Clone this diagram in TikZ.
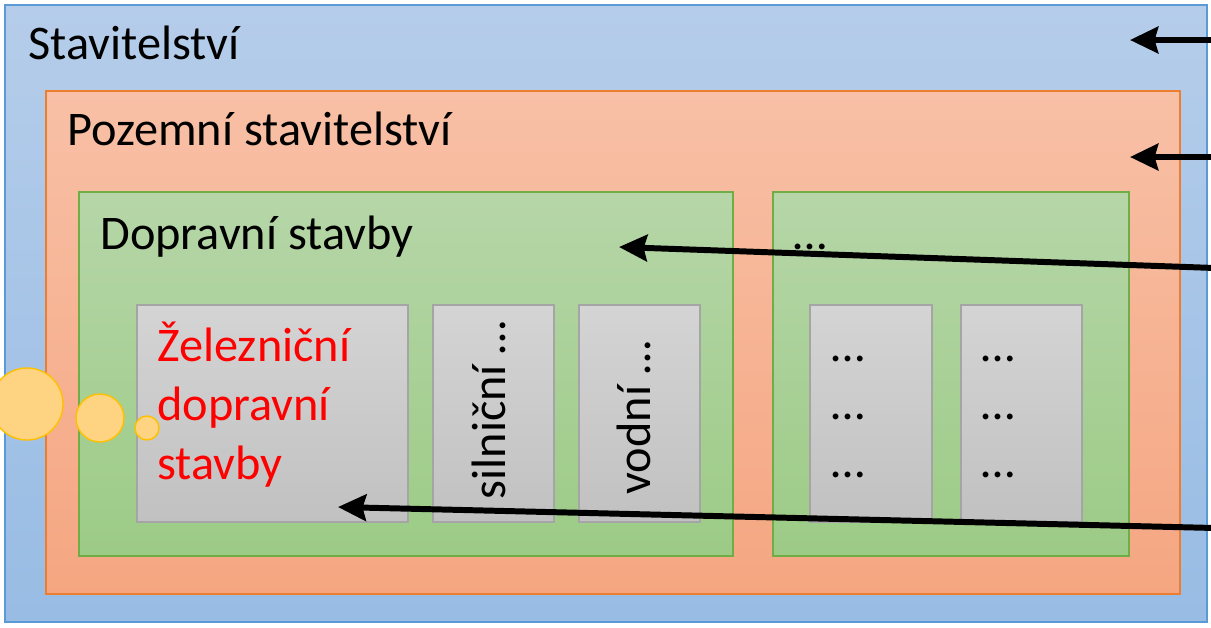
\documentclass[tikz,border=0pt]{standalone}
\usepackage{fontspec}
\setmainfont{Carlito}
\usetikzlibrary{arrows.meta,fit}
\definecolor{blue1}{RGB}{181,205,234}
\definecolor{blue2}{RGB}{152,188,228}
\definecolor{blueline}{RGB}{91,155,213}
\definecolor{orange1}{RGB}{248,192,166}
\definecolor{orange2}{RGB}{245,166,129}
\definecolor{orangeline}{RGB}{237,125,49}
\definecolor{green1}{RGB}{182,214,168}
\definecolor{green2}{RGB}{156,203,134}
\definecolor{greenline}{RGB}{112,173,71}
\definecolor{gray1}{RGB}{212,212,212}
\definecolor{gray2}{RGB}{193,193,193}
\definecolor{grayline}{RGB}{165,165,165}
\definecolor{bubble}{RGB}{254,211,130}
\definecolor{bubbleline}{RGB}{255,192,0}

\begin{document}
\begin{tikzpicture}[x=0.02cm, y=-0.02cm,
				area/.style=		{rectangle, inner sep=0pt, line width=0.6pt},
				bluearea/.style=	{area, top color=blue1, bottom color=blue2, draw=blueline},
				orangearea/.style=	{area, top color=orange1, bottom color=orange2, draw=orangeline},
				greenarea/.style=	{area, top color=green1, bottom color=green2, draw=greenline},
				grayarea/.style=	{area, top color=gray1, bottom color=gray2, draw=grayline},
				title/.style=		{anchor=base west, inner sep=0pt, font=\fontsize{27.5}{33.5}\selectfont},
				bubblenode/.style=	{circle, inner sep=0pt, fill=bubble, draw=bubbleline, line width=0.8pt},
				pointer/.style=		{arrows={-Stealth[length=16pt, width=15pt, inset=2pt]}, line width=3.4pt, draw=black}]
	\useasboundingbox (0,0) rectangle (1211,627);

	% nested areas
	\node[bluearea, fit={(5,5) (1207,622)}] (stav) {};
	\node[orangearea, fit={(46,91) (1180,594)}] (pozem) {};
	\node[greenarea, fit={(79,192) (733,556)}] (doprav) {};
	\node[greenarea, fit={(773,192) (1129,556)}] (other) {};
	\node[grayarea, fit={(137,305) (408,522)}] (zelez) {};
	\node[grayarea, fit={(433,305) (554,522)}] (silnic) {};
	\node[grayarea, fit={(579,305) (700,522)}] (vodni) {};
	\node[grayarea, fit={(810,305) (932,522)}] (dotsA) {};
	\node[grayarea, fit={(961,305) (1082,522)}] (dotsB) {};

	% titles
	\node[title] (tstav) at (28,59) {Stavitelství};
	\node[title] (tpozem) at (67,145) {Pozemní stavitelství};
	\node[title] (tdoprav) at (100,249) {Dopravní stavby};
	\node[title] (tother) at (793,249) {…};
	\node[title, anchor=north west, align=left, text=red] (tzelez) at (157,322)
		{Železniční\\dopravní\\stavby};
	\node[title, anchor=center, rotate=90] (tsilnic) at (489,410) {silniční …};
	\node[title, anchor=center, rotate=90] (tvodni) at (634,418) {vodní …};
	\foreach \y [count=\i] in {361,419,477} {
		\node[title] (da\i) at (831,\y) {…};
		\node[title] (db\i) at (981,\y) {…};
	}

	% bubbles
	\node[bubblenode, minimum size=72*0.02cm] (b1) at (27,404) {};
	\node[bubblenode, minimum size=48*0.02cm] (b2) at (100,418) {};
	\node[bubblenode, minimum size=24*0.02cm] (b3) at (147,428) {};

	% pointers from the right edge
	\coordinate (s1) at (1215,40);
	\coordinate (e1) at (1130,40);
	\coordinate (s2) at (1215,157);
	\coordinate (e2) at (1130,157);
	\coordinate (s3) at (1215,268);
	\coordinate (e3) at (619,247);
	\coordinate (s4) at (1215,528);
	\coordinate (e4) at (338,507);
	\foreach \i in {1,...,4}
		\draw[pointer] (s\i) -- (e\i);
\end{tikzpicture}
\end{document}
